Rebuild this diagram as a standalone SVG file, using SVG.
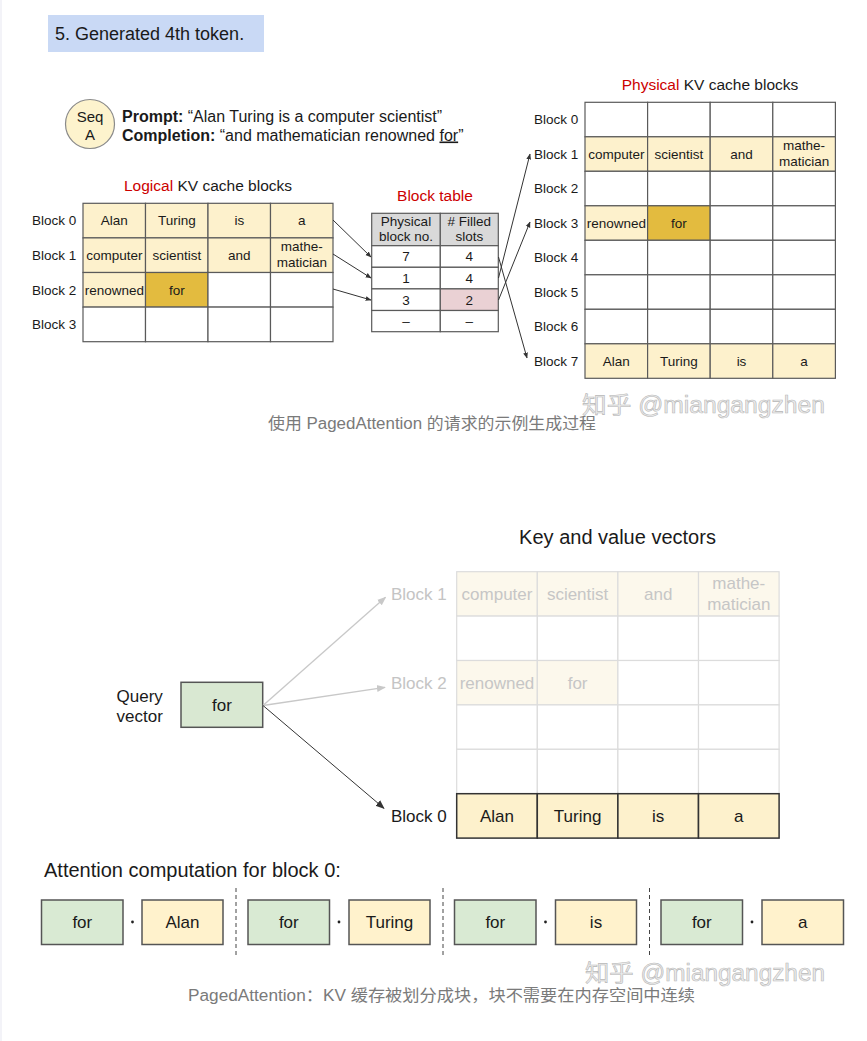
<svg xmlns="http://www.w3.org/2000/svg" width="867" height="1041" viewBox="0 0 867 1041">
<defs>
<style>
text{font-family:"Liberation Sans",Arial,"Noto Sans CJK SC",sans-serif;fill:#1a1a1a}
.c{font-size:13.5px;text-anchor:middle}
.lb{font-size:13.5px}
.red{fill:#cc0000}
.cell{stroke:#5a5a5a;stroke-width:1.2}
.y{fill:#fdf1cc}
.dy{fill:#e3bb3f}
.w{fill:#ffffff}
.hd{fill:#d9d9d9}
.pk{fill:#ead1d4}
.kvf{fill:#fcf8ec;stroke:#dcdcdc;stroke-width:1.2}
.kvw{fill:#ffffff;stroke:#dcdcdc;stroke-width:1.2}
.kvt{font-size:17px;text-anchor:middle;fill:#c6c6c6}
.kvd{font-size:17px;text-anchor:middle;fill:#1a1a1a}
.g{fill:#d9ead3;stroke:#555;stroke-width:1.5}
.yb{fill:#fff2cc;stroke:#555;stroke-width:1.5}
.bt{font-size:17px;text-anchor:middle}
.ln{stroke:#333;stroke-width:1;fill:none}
.lg{stroke:#c8c8c8;stroke-width:1.3;fill:none}
.wm{font-size:23px;fill:#ececec;stroke:#b8b8b8;stroke-width:0.6;font-family:"Liberation Sans","Noto Sans CJK SC",sans-serif}
.cap{font-size:16px;fill:#7a7a7a;font-family:"Liberation Sans","Noto Sans CJK SC",sans-serif}
</style>
<marker id="ah" viewBox="0 0 10 10" refX="9" refY="5" markerWidth="6" markerHeight="6" orient="auto-start-reverse" markerUnits="userSpaceOnUse"><path d="M0,1 L10,5 L0,9 z" fill="#333"/></marker>
<marker id="ahb" viewBox="0 0 10 10" refX="9" refY="5" markerWidth="9" markerHeight="9" orient="auto-start-reverse" markerUnits="userSpaceOnUse"><path d="M0,1 L10,5 L0,9 z" fill="#333"/></marker>
<marker id="ahg" viewBox="0 0 10 10" refX="9" refY="5" markerWidth="9" markerHeight="9" orient="auto-start-reverse" markerUnits="userSpaceOnUse"><path d="M0,1 L10,5 L0,9 z" fill="#c8c8c8"/></marker>
</defs>
<rect x="0" y="0" width="867" height="1041" fill="#ffffff"/>
<rect x="0" y="0" width="2" height="1041" fill="#f3f3f8"/>

<g id="title">
<rect x="48" y="15" width="216" height="37" fill="#c9d9f5"/>
<text x="55" y="40" font-size="18">5. Generated 4th token.</text>
</g>

<g id="seqA">
<circle cx="90" cy="124" r="24.5" fill="#fdf3cd" stroke="#8a8a8a" stroke-width="1.2"/>
<text x="90" y="121.5" font-size="15" text-anchor="middle">Seq</text>
<text x="90" y="139.5" font-size="15" text-anchor="middle">A</text>
</g>
<g id="prompt">
<text x="122" y="122" font-size="16"><tspan font-weight="bold">Prompt:</tspan> “Alan Turing is a computer scientist”</text>
<text x="122" y="140.5" font-size="16"><tspan font-weight="bold">Completion:</tspan> “and mathematician renowned <tspan text-decoration="underline">for</tspan>”</text>
</g>

<g id="logical">
<text x="208" y="190.5" font-size="15.5" text-anchor="middle"><tspan class="red">Logical</tspan> KV cache blocks</text>
<rect class="cell y" x="83" y="203.3" width="62.5" height="34.6"/>
<rect class="cell y" x="145.5" y="203.3" width="62.5" height="34.6"/>
<rect class="cell y" x="208" y="203.3" width="62.5" height="34.6"/>
<rect class="cell y" x="270.5" y="203.3" width="62.5" height="34.6"/>
<rect class="cell y" x="83" y="237.9" width="62.5" height="34.6"/>
<rect class="cell y" x="145.5" y="237.9" width="62.5" height="34.6"/>
<rect class="cell y" x="208" y="237.9" width="62.5" height="34.6"/>
<rect class="cell y" x="270.5" y="237.9" width="62.5" height="34.6"/>
<rect class="cell y" x="83" y="272.5" width="62.5" height="34.6"/>
<rect class="cell dy" x="145.5" y="272.5" width="62.5" height="34.6"/>
<rect class="cell w" x="208" y="272.5" width="62.5" height="34.6"/>
<rect class="cell w" x="270.5" y="272.5" width="62.5" height="34.6"/>
<rect class="cell w" x="83" y="307.1" width="62.5" height="34.6"/>
<rect class="cell w" x="145.5" y="307.1" width="62.5" height="34.6"/>
<rect class="cell w" x="208" y="307.1" width="62.5" height="34.6"/>
<rect class="cell w" x="270.5" y="307.1" width="62.5" height="34.6"/>
<text class="lb" x="32" y="225.3">Block 0</text>
<text class="lb" x="32" y="259.9">Block 1</text>
<text class="lb" x="32" y="294.5">Block 2</text>
<text class="lb" x="32" y="329.1">Block 3</text>
<text class="c" x="114.3" y="225.3">Alan</text>
<text class="c" x="176.8" y="225.3">Turing</text>
<text class="c" x="239.3" y="225.3">is</text>
<text class="c" x="301.8" y="225.3">a</text>
<text class="c" x="114.3" y="259.9">computer</text>
<text class="c" x="176.8" y="259.9">scientist</text>
<text class="c" x="239.3" y="259.9">and</text>
<text class="c" x="301.8" y="251">mathe-</text>
<text class="c" x="301.8" y="267">matician</text>
<text class="c" x="114.3" y="294.5">renowned</text>
<text class="c" x="176.8" y="294.5">for</text>
</g>

<g id="blocktable">
<text x="435" y="201" font-size="15.5" text-anchor="middle" class="red">Block table</text>
<rect class="cell hd" x="371.7" y="213.3" width="68.6" height="32.4"/>
<rect class="cell hd" x="440.3" y="213.3" width="58" height="32.4"/>
<rect class="cell w" x="371.7" y="245.7" width="68.6" height="21.6"/>
<rect class="cell w" x="440.3" y="245.7" width="58" height="21.6"/>
<rect class="cell w" x="371.7" y="267.3" width="68.6" height="21.6"/>
<rect class="cell w" x="440.3" y="267.3" width="58" height="21.6"/>
<rect class="cell w" x="371.7" y="288.9" width="68.6" height="21.6"/>
<rect class="cell pk" x="440.3" y="288.9" width="58" height="21.6"/>
<rect class="cell w" x="371.7" y="310.5" width="68.6" height="21.2"/>
<rect class="cell w" x="440.3" y="310.5" width="58" height="21.2"/>
<text class="c" x="406" y="226">Physical</text>
<text class="c" x="406" y="240.5">block no.</text>
<text class="c" x="469.3" y="226"># Filled</text>
<text class="c" x="469.3" y="240.5">slots</text>
<text class="c" x="406" y="261.3">7</text>
<text class="c" x="469.3" y="261.3">4</text>
<text class="c" x="406" y="282.9">1</text>
<text class="c" x="469.3" y="282.9">4</text>
<text class="c" x="406" y="304.5">3</text>
<text class="c" x="469.3" y="304.5">2</text>
<text class="c" x="406" y="325.8">–</text>
<text class="c" x="469.3" y="325.8">–</text>
</g>

<g id="physical">
<text x="710" y="89.5" font-size="15.5" text-anchor="middle"><tspan class="red">Physical</tspan> KV cache blocks</text>
<rect class="cell w" x="585" y="102.3" width="62.6" height="34.5"/>
<rect class="cell w" x="647.6" y="102.3" width="62.6" height="34.5"/>
<rect class="cell w" x="710.2" y="102.3" width="62.6" height="34.5"/>
<rect class="cell w" x="772.8" y="102.3" width="62.6" height="34.5"/>
<rect class="cell y" x="585" y="136.8" width="62.6" height="34.5"/>
<rect class="cell y" x="647.6" y="136.8" width="62.6" height="34.5"/>
<rect class="cell y" x="710.2" y="136.8" width="62.6" height="34.5"/>
<rect class="cell y" x="772.8" y="136.8" width="62.6" height="34.5"/>
<rect class="cell w" x="585" y="171.3" width="62.6" height="34.5"/>
<rect class="cell w" x="647.6" y="171.3" width="62.6" height="34.5"/>
<rect class="cell w" x="710.2" y="171.3" width="62.6" height="34.5"/>
<rect class="cell w" x="772.8" y="171.3" width="62.6" height="34.5"/>
<rect class="cell y" x="585" y="205.8" width="62.6" height="34.5"/>
<rect class="cell dy" x="647.6" y="205.8" width="62.6" height="34.5"/>
<rect class="cell w" x="710.2" y="205.8" width="62.6" height="34.5"/>
<rect class="cell w" x="772.8" y="205.8" width="62.6" height="34.5"/>
<rect class="cell w" x="585" y="240.3" width="62.6" height="34.5"/>
<rect class="cell w" x="647.6" y="240.3" width="62.6" height="34.5"/>
<rect class="cell w" x="710.2" y="240.3" width="62.6" height="34.5"/>
<rect class="cell w" x="772.8" y="240.3" width="62.6" height="34.5"/>
<rect class="cell w" x="585" y="274.8" width="62.6" height="34.5"/>
<rect class="cell w" x="647.6" y="274.8" width="62.6" height="34.5"/>
<rect class="cell w" x="710.2" y="274.8" width="62.6" height="34.5"/>
<rect class="cell w" x="772.8" y="274.8" width="62.6" height="34.5"/>
<rect class="cell w" x="585" y="309.3" width="62.6" height="34.5"/>
<rect class="cell w" x="647.6" y="309.3" width="62.6" height="34.5"/>
<rect class="cell w" x="710.2" y="309.3" width="62.6" height="34.5"/>
<rect class="cell w" x="772.8" y="309.3" width="62.6" height="34.5"/>
<rect class="cell y" x="585" y="343.8" width="62.6" height="34.5"/>
<rect class="cell y" x="647.6" y="343.8" width="62.6" height="34.5"/>
<rect class="cell y" x="710.2" y="343.8" width="62.6" height="34.5"/>
<rect class="cell y" x="772.8" y="343.8" width="62.6" height="34.5"/>
<text class="lb" x="534" y="124.2">Block 0</text>
<text class="lb" x="534" y="158.7">Block 1</text>
<text class="lb" x="534" y="193.2">Block 2</text>
<text class="lb" x="534" y="227.7">Block 3</text>
<text class="lb" x="534" y="262.2">Block 4</text>
<text class="lb" x="534" y="296.7">Block 5</text>
<text class="lb" x="534" y="331.2">Block 6</text>
<text class="lb" x="534" y="365.7">Block 7</text>
<text class="c" x="616.3" y="158.7">computer</text>
<text class="c" x="678.9" y="158.7">scientist</text>
<text class="c" x="741.5" y="158.7">and</text>
<text class="c" x="804.1" y="150">mathe-</text>
<text class="c" x="804.1" y="166">matician</text>
<text class="c" x="616.3" y="227.7">renowned</text>
<text class="c" x="678.9" y="227.7">for</text>
<text class="c" x="616.3" y="365.7">Alan</text>
<text class="c" x="678.9" y="365.7">Turing</text>
<text class="c" x="741.5" y="365.7">is</text>
<text class="c" x="804.1" y="365.7">a</text>
</g>

<g id="connectors-top">
<line class="ln" x1="333" y1="220" x2="371" y2="257" marker-end="url(#ah)"/>
<line class="ln" x1="333" y1="254" x2="371" y2="278" marker-end="url(#ah)"/>
<line class="ln" x1="333" y1="289" x2="371" y2="300" marker-end="url(#ah)"/>
<line class="ln" x1="498.5" y1="257" x2="527" y2="358" marker-end="url(#ah)"/>
<line class="ln" x1="498.5" y1="278" x2="530" y2="154" marker-end="url(#ah)"/>
<line class="ln" x1="498.5" y1="300" x2="530" y2="222" marker-end="url(#ah)"/>
</g>

<g id="caption1">
<text class="cap" x="268" y="429" textLength="328" lengthAdjust="spacingAndGlyphs">使用 PagedAttention 的请求的示例生成过程</text>
<text class="wm" x="582" y="413" textLength="243" lengthAdjust="spacingAndGlyphs">知乎 @miangangzhen</text>
</g>

<g id="kv-title">
<text x="617.5" y="544" font-size="20" text-anchor="middle">Key and value vectors</text>
</g>

<g id="kv-grid">
<rect class="kvf" x="456.7" y="571.7" width="80.6" height="44.4"/>
<rect class="kvf" x="537.3" y="571.7" width="80.6" height="44.4"/>
<rect class="kvf" x="617.9" y="571.7" width="80.6" height="44.4"/>
<rect class="kvf" x="698.5" y="571.7" width="80.6" height="44.4"/>
<rect class="kvw" x="456.7" y="616.1" width="80.6" height="44.4"/>
<rect class="kvw" x="537.3" y="616.1" width="80.6" height="44.4"/>
<rect class="kvw" x="617.9" y="616.1" width="80.6" height="44.4"/>
<rect class="kvw" x="698.5" y="616.1" width="80.6" height="44.4"/>
<rect class="kvf" x="456.7" y="660.5" width="80.6" height="44.4"/>
<rect class="kvf" x="537.3" y="660.5" width="80.6" height="44.4"/>
<rect class="kvw" x="617.9" y="660.5" width="80.6" height="44.4"/>
<rect class="kvw" x="698.5" y="660.5" width="80.6" height="44.4"/>
<rect class="kvw" x="456.7" y="704.9" width="80.6" height="44.4"/>
<rect class="kvw" x="537.3" y="704.9" width="80.6" height="44.4"/>
<rect class="kvw" x="617.9" y="704.9" width="80.6" height="44.4"/>
<rect class="kvw" x="698.5" y="704.9" width="80.6" height="44.4"/>
<rect class="kvw" x="456.7" y="749.3" width="80.6" height="44.4"/>
<rect class="kvw" x="537.3" y="749.3" width="80.6" height="44.4"/>
<rect class="kvw" x="617.9" y="749.3" width="80.6" height="44.4"/>
<rect class="kvw" x="698.5" y="749.3" width="80.6" height="44.4"/>
<rect x="456.7" y="793.7" width="80.6" height="44.4" fill="#fdf1cc" stroke="#333" stroke-width="1.5"/>
<rect x="537.3" y="793.7" width="80.6" height="44.4" fill="#fdf1cc" stroke="#333" stroke-width="1.5"/>
<rect x="617.9" y="793.7" width="80.6" height="44.4" fill="#fdf1cc" stroke="#333" stroke-width="1.5"/>
<rect x="698.5" y="793.7" width="80.6" height="44.4" fill="#fdf1cc" stroke="#333" stroke-width="1.5"/>
<text class="kvt" x="497" y="599.9">computer</text>
<text class="kvt" x="577.6" y="599.9">scientist</text>
<text class="kvt" x="658.2" y="599.9">and</text>
<text class="kvt" x="738.8" y="588.5">mathe-</text>
<text class="kvt" x="738.8" y="609.5">matician</text>
<text class="kvt" x="497" y="688.7">renowned</text>
<text class="kvt" x="577.6" y="688.7">for</text>
<text class="kvd" x="497" y="821.9">Alan</text>
<text class="kvd" x="577.6" y="821.9">Turing</text>
<text class="kvd" x="658.2" y="821.9">is</text>
<text class="kvd" x="738.8" y="821.9">a</text>
<text x="391" y="600" font-size="17" style="fill:#c4c4c4">Block 1</text>
<text x="391" y="688.5" font-size="17" style="fill:#c4c4c4">Block 2</text>
<text x="391" y="822" font-size="17">Block 0</text>
</g>

<g id="query">
<text x="116.5" y="701.5" font-size="17">Query</text>
<text x="116.5" y="722" font-size="17">vector</text>
<rect x="181" y="682.3" width="81.7" height="45" fill="#d9e8d2" stroke="#555" stroke-width="1.5"/>
<text x="222" y="711" font-size="17" text-anchor="middle">for</text>
</g>

<g id="connectors-bottom">
<line class="lg" x1="263" y1="705.5" x2="385.5" y2="597.3" marker-end="url(#ahg)"/>
<line class="lg" x1="263" y1="705.5" x2="385" y2="687.3" marker-end="url(#ahg)"/>
<line class="ln" x1="263" y1="705.5" x2="384" y2="808.3" stroke-width="1.5" marker-end="url(#ahb)"/>
</g>

<g id="attention">
<text x="44" y="877" font-size="20">Attention computation for block 0:</text>
<rect class="g" x="41.5" y="900" width="81.5" height="44.5"/>
<rect class="yb" x="142" y="900" width="81" height="44.5"/>
<rect class="g" x="248" y="900" width="81.5" height="44.5"/>
<rect class="yb" x="349" y="900" width="81" height="44.5"/>
<rect class="g" x="454.5" y="900" width="81.5" height="44.5"/>
<rect class="yb" x="555.5" y="900" width="81" height="44.5"/>
<rect class="g" x="661" y="900" width="81.5" height="44.5"/>
<rect class="yb" x="762" y="900" width="81.5" height="44.5"/>
<text class="bt" x="82.3" y="928">for</text>
<text class="bt" x="182.5" y="928">Alan</text>
<text class="bt" x="288.8" y="928">for</text>
<text class="bt" x="389.5" y="928">Turing</text>
<text class="bt" x="495.3" y="928">for</text>
<text class="bt" x="596" y="928">is</text>
<text class="bt" x="701.8" y="928">for</text>
<text class="bt" x="802.8" y="928">a</text>
<circle cx="132.5" cy="922" r="1.4" fill="#222"/>
<circle cx="339" cy="922" r="1.4" fill="#222"/>
<circle cx="545.5" cy="922" r="1.4" fill="#222"/>
<circle cx="752" cy="922" r="1.4" fill="#222"/>
<line x1="236" y1="888" x2="236" y2="957" stroke="#444" stroke-width="1" stroke-dasharray="4,3"/>
<line x1="443" y1="888" x2="443" y2="957" stroke="#444" stroke-width="1" stroke-dasharray="4,3"/>
<line x1="649.5" y1="888" x2="649.5" y2="957" stroke="#444" stroke-width="1" stroke-dasharray="4,3"/>
</g>

<g id="caption2">
<text class="wm" x="585" y="981" textLength="240" lengthAdjust="spacingAndGlyphs">知乎 @miangangzhen</text>
<text class="cap" x="188" y="1001" textLength="507" lengthAdjust="spacingAndGlyphs">PagedAttention：KV 缓存被划分成块，块不需要在内存空间中连续</text>
</g>
</svg>
